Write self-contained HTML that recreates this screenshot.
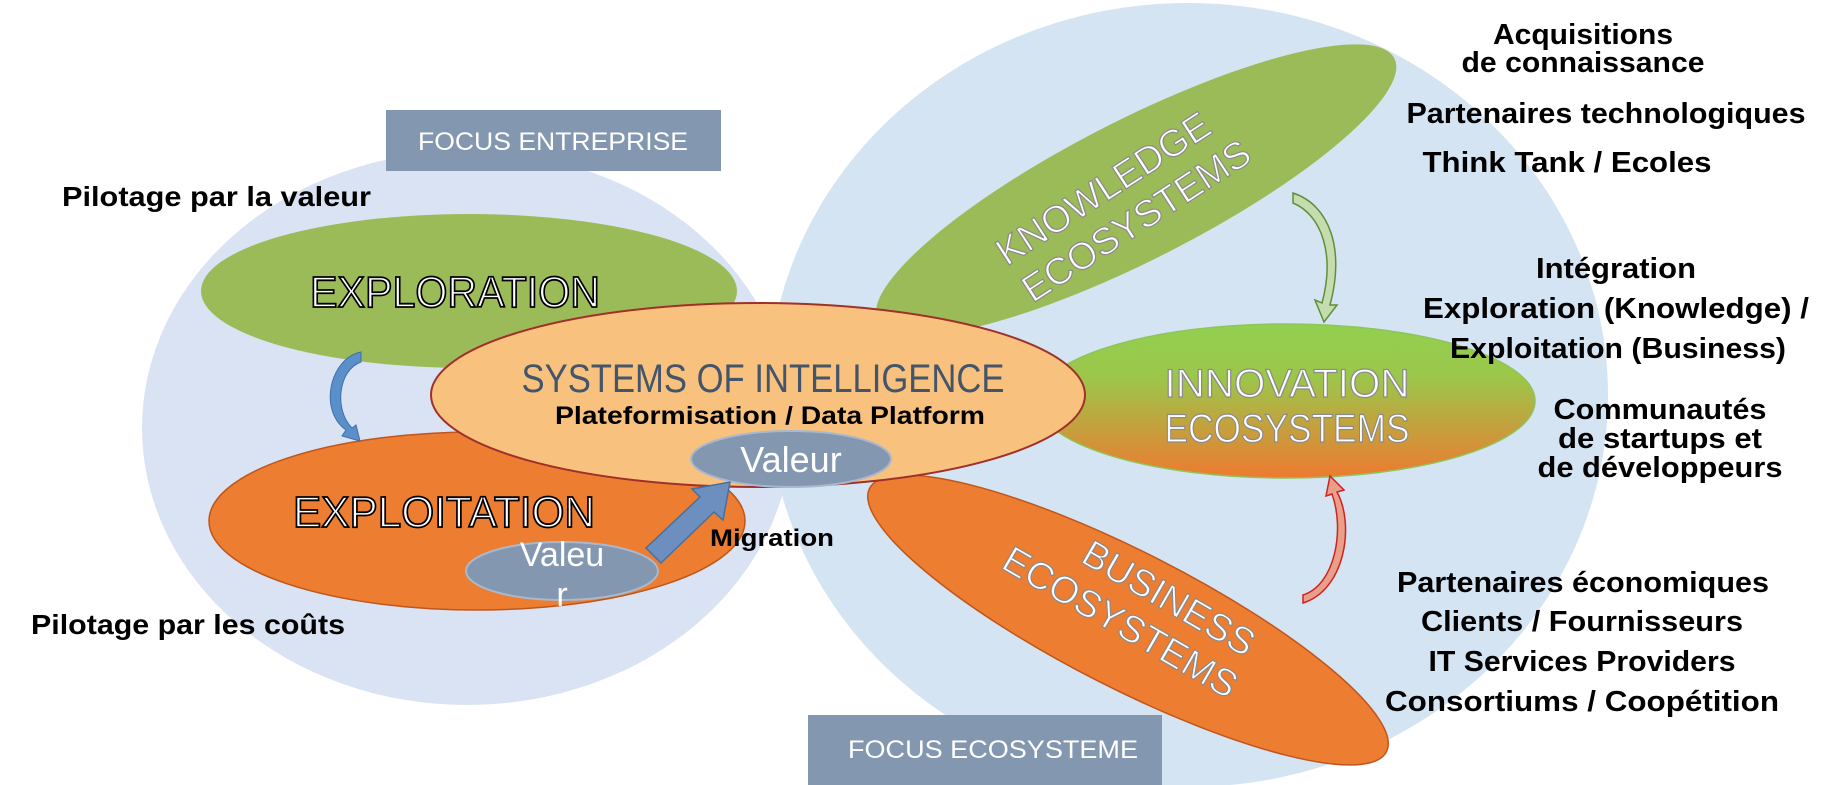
<!DOCTYPE html>
<html><head><meta charset="utf-8"><style>
html,body{margin:0;padding:0;background:#fff;}
svg{display:block;}
.b{font-family:"Liberation Sans",sans-serif;font-weight:bold;fill:#000;}
</style></head><body>
<svg width="1841" height="785" viewBox="0 0 1841 785" xmlns="http://www.w3.org/2000/svg">
<defs>
<linearGradient id="ig" x1="0" y1="0" x2="0" y2="1">
<stop offset="0" stop-color="#92d050"/><stop offset="0.35" stop-color="#9cc64a"/><stop offset="1" stop-color="#ee7a30"/>
</linearGradient>
</defs>
<ellipse cx="467" cy="428" rx="325" ry="277" fill="#dae3f3"/>
<ellipse cx="1188" cy="395" rx="420" ry="392" fill="#d5e4f3"/>
<rect x="386" y="110" width="335" height="61" fill="#8497b0"/>
<text x="553" y="150" text-anchor="middle" font-family="Liberation Sans,sans-serif" font-size="25" fill="#fff" textLength="270" lengthAdjust="spacingAndGlyphs">FOCUS ENTREPRISE</text>
<rect x="808" y="715" width="354" height="70" fill="#8497b0"/>
<text x="993" y="758" text-anchor="middle" font-family="Liberation Sans,sans-serif" font-size="25" fill="#fff" textLength="290" lengthAdjust="spacingAndGlyphs">FOCUS ECOSYSTEME</text>
<ellipse cx="469" cy="291" rx="268" ry="77" fill="#9bbb59"/>
<ellipse cx="477" cy="521" rx="268" ry="89" fill="#ed7d31" stroke="#c0561c" stroke-width="1.5"/>
<text x="455" y="307" text-anchor="middle" font-family="Liberation Sans,sans-serif" font-size="44" fill="#fff" stroke="#000" stroke-width="1.8" textLength="290" lengthAdjust="spacingAndGlyphs">EXPLORATION</text>
<text x="444" y="527" text-anchor="middle" font-family="Liberation Sans,sans-serif" font-size="44" fill="#fff" stroke="#000" stroke-width="1.8" textLength="302" lengthAdjust="spacingAndGlyphs">EXPLOITATION</text>
<ellipse cx="562" cy="571" rx="96" ry="29" fill="#8497b0" stroke="#a9b8cc" stroke-width="2"/>
<text x="562" y="566" text-anchor="middle" font-family="Liberation Sans,sans-serif" font-size="34" fill="#fff">Valeu</text>
<text x="562" y="606" text-anchor="middle" font-family="Liberation Sans,sans-serif" font-size="34" fill="#fff">r</text>
<ellipse cx="1136" cy="190" rx="290" ry="70" fill="#9bbb59" transform="rotate(-27 1136 190)"/>
<ellipse cx="1128" cy="620" rx="290" ry="68" fill="#ed7d31" stroke="#c0561c" stroke-width="1.5" transform="rotate(27 1128 620)"/>
<ellipse cx="1286" cy="401" rx="249" ry="77" fill="url(#ig)" stroke="#8fc45a" stroke-width="1.5"/>
<ellipse cx="758" cy="395" rx="327" ry="92" fill="#f8c27e" stroke="#a0302a" stroke-width="2"/>
<text x="763" y="392" text-anchor="middle" font-family="Liberation Sans,sans-serif" font-size="40" fill="#44546a" textLength="483" lengthAdjust="spacingAndGlyphs">SYSTEMS OF INTELLIGENCE</text>
<text x="770" y="424" text-anchor="middle" class="b" font-size="25" textLength="430" lengthAdjust="spacingAndGlyphs">Plateformisation / Data Platform</text>
<ellipse cx="791" cy="459" rx="100" ry="28" fill="#8497b0" stroke="#a9b8cc" stroke-width="2"/>
<text x="791" y="472" text-anchor="middle" font-family="Liberation Sans,sans-serif" font-size="36" fill="#fff">Valeur</text>
<g transform="rotate(-33 1120 205)" font-family="Liberation Sans,sans-serif" font-size="38" fill="#fff" stroke="#8a8a8a" stroke-width="1.2" text-anchor="middle">
<text x="1115" y="195">KNOWLEDGE</text>
<text x="1125" y="240">ECOSYSTEMS</text>
</g>
<g transform="rotate(30 1140 608)" font-family="Liberation Sans,sans-serif" font-size="38" fill="#fff" stroke="#8a8a8a" stroke-width="1.2" text-anchor="middle">
<text x="1160" y="598">BUSINESS</text>
<text x="1130" y="643">ECOSYSTEMS</text>
</g>
<g font-family="Liberation Sans,sans-serif" font-size="40" fill="#fff" stroke="#8a8a8a" stroke-width="1.2" text-anchor="middle">
<text x="1287" y="397" textLength="245" lengthAdjust="spacingAndGlyphs">INNOVATION</text>
<text x="1287" y="442" textLength="245" lengthAdjust="spacingAndGlyphs">ECOSYSTEMS</text>
</g>
<path d="M646,548 L700,497 L692,489 L730,482 L723,520 L714,512 L661,563 Z" fill="#6c8fbf" stroke="#46709f" stroke-width="1.5"/>
<text x="710" y="546" class="b" font-size="24" textLength="124" lengthAdjust="spacingAndGlyphs">Migration</text>
<path d="M361,352 C330,358 318,410 346,430 L342,436 L360,441 L356,425 L352,428 C334,410 338,370 361,362 Z" fill="#5b8fc9" stroke="#3f6fa8" stroke-width="1"/>
<path d="M1293,193 C1330,205 1345,250 1330,305 L1337,305 L1324,322 L1315,300 L1322,303 C1335,255 1322,215 1293,203 Z" fill="#c5dcae" stroke="#5f8f3a" stroke-width="1.5"/>
<path d="M1303,603 C1345,590 1355,525 1337,492 L1344,490 L1330,476 L1326,496 L1332,494 C1345,530 1335,585 1303,595 Z" fill="#e8a08a" stroke="#d42020" stroke-width="1.5"/>
<text x="62" y="206" class="b" font-size="28" textLength="309" lengthAdjust="spacingAndGlyphs">Pilotage  par la valeur</text>
<text x="31" y="634" class="b" font-size="28" textLength="314" lengthAdjust="spacingAndGlyphs">Pilotage  par les coûts</text>
<g class="b" font-size="29" text-anchor="middle">
<text x="1583" y="44" textLength="180" lengthAdjust="spacingAndGlyphs">Acquisitions</text>
<text x="1583" y="72" textLength="243" lengthAdjust="spacingAndGlyphs">de connaissance</text>
<text x="1606" y="123" textLength="399" lengthAdjust="spacingAndGlyphs">Partenaires technologiques</text>
<text x="1567" y="172" textLength="289" lengthAdjust="spacingAndGlyphs">Think Tank / Ecoles</text>
<text x="1616" y="278" textLength="160" lengthAdjust="spacingAndGlyphs">Intégration</text>
<text x="1616" y="318" textLength="386" lengthAdjust="spacingAndGlyphs">Exploration (Knowledge) /</text>
<text x="1618" y="358" textLength="336" lengthAdjust="spacingAndGlyphs">Exploitation (Business)</text>
<text x="1660" y="419" textLength="213" lengthAdjust="spacingAndGlyphs">Communautés</text>
<text x="1660" y="448" textLength="204" lengthAdjust="spacingAndGlyphs">de startups et</text>
<text x="1660" y="477" textLength="245" lengthAdjust="spacingAndGlyphs">de développeurs</text>
<text x="1583" y="592" textLength="372" lengthAdjust="spacingAndGlyphs">Partenaires économiques</text>
<text x="1582" y="631" textLength="322" lengthAdjust="spacingAndGlyphs">Clients / Fournisseurs</text>
<text x="1582" y="671" textLength="307" lengthAdjust="spacingAndGlyphs">IT Services Providers</text>
<text x="1582" y="711" textLength="394" lengthAdjust="spacingAndGlyphs">Consortiums / Coopétition</text>
</g>
</svg>
</body></html>
